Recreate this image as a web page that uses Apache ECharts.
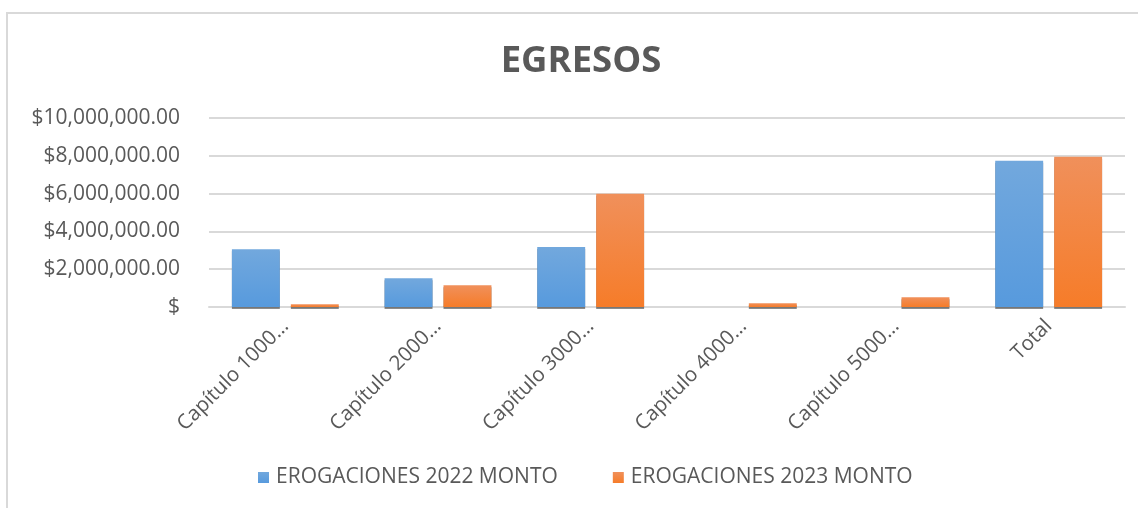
<!DOCTYPE html>
<html>
<head>
<meta charset="utf-8">
<script src="https://cdn.jsdelivr.net/npm/echarts@6/dist/echarts.min.js"></script>
<style>
  html, body { margin: 0; padding: 0; background: #fff; }
  #chart { width: 1138px; height: 508px; }
</style>
</head>
<body>
<div id="chart"></div>
<script>
var categories = ['Capítulo 1000…', 'Capítulo 2000…', 'Capítulo 3000…', 'Capítulo 4000…', 'Capítulo 5000…', 'Total'];
var monto2022 = [3060000, 1520000, 3170000, 0, 0, 7740000];
var monto2023 = [140000, 1150000, 5990000, 200000, 520000, 7950000];
var seriesNames = ['EROGACIONES 2022 MONTO', 'EROGACIONES 2023 MONTO'];

var textColor = '#595959';
var font = '"Open Sans", "Noto Sans", sans-serif';

function money(v) {
  if (v === 0) return '$';
  return '$' + v.toLocaleString('en-US', { minimumFractionDigits: 2, maximumFractionDigits: 2 });
}

function grad(top, bottom) {
  return new echarts.graphic.LinearGradient(0, 0, 0, 1, [
    { offset: 0, color: top },
    { offset: 1, color: bottom }
  ]);
}

var chart = echarts.init(document.getElementById('chart'), null, { renderer: 'canvas' });

var option = {
  animation: false,
  backgroundColor: '#fff',
  textStyle: { fontFamily: font, color: textColor },
  graphic: [{
    type: 'rect',
    shape: { x: 7, y: 13, width: 1150, height: 520 },
    style: { fill: 'none', stroke: '#d9d9d9', lineWidth: 2 },
    silent: true
  }],
  title: {
    text: 'EGRESOS',
    left: 576,
    textAlign: 'center',
    top: 38,
    textStyle: { fontFamily: font, fontSize: 36.5, fontWeight: 'bold', color: textColor }
  },
  legend: {
    bottom: 15,
    left: 253,
    itemWidth: 11,
    itemHeight: 11,
    itemGap: 55,
    icon: 'rect',
    textStyle: { fontFamily: font, fontSize: 21, color: textColor, padding: [0, 0, 0, 2] },
    data: seriesNames
  },
  grid: {
    left: 209,
    right: 13,
    top: 118,
    bottom: 201,
    containLabel: false
  },
  xAxis: {
    type: 'category',
    data: categories,
    axisLine: { lineStyle: { color: '#d9d9d9', width: 2 } },
    axisTick: { show: false },
    axisLabel: {
      rotate: 45,
      interval: 0,
      margin: 16,
      fontFamily: font,
      fontSize: 20.5,
      color: textColor
    }
  },
  yAxis: {
    type: 'value',
    min: 0,
    max: 10000000,
    interval: 2000000,
    axisLine: { show: false },
    axisTick: { show: false },
    splitLine: { lineStyle: { color: '#d9d9d9', width: 2 } },
    axisLabel: {
      margin: 29,
      fontFamily: font,
      fontSize: 21,
      color: textColor,
      formatter: money
    }
  },
  series: [
    {
      name: seriesNames[0],
      type: 'bar',
      data: monto2022,
      barGap: '23%',
      barCategoryGap: '30%',
      itemStyle: {
        color: grad('#72a8dd', '#579add'),
        shadowColor: 'rgba(0,0,0,0.45)',
        shadowOffsetY: 2,
        shadowBlur: 0
      }
    },
    {
      name: seriesNames[1],
      type: 'bar',
      data: monto2023,
      itemStyle: {
        color: grad('#f0905b', '#f67c29'),
        shadowColor: 'rgba(0,0,0,0.45)',
        shadowOffsetY: 2,
        shadowBlur: 0
      }
    }
  ]
};

chart.setOption(option);
</script>
</body>
</html>
